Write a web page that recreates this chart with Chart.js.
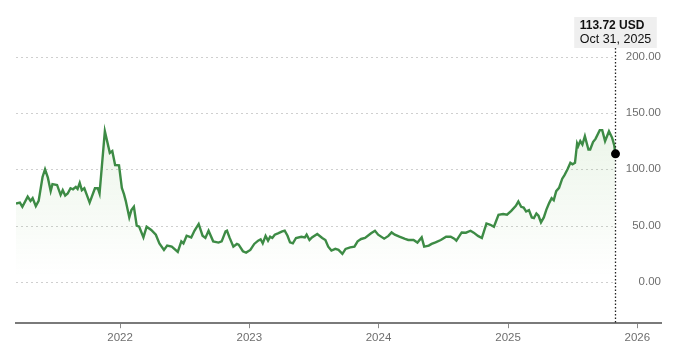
<!DOCTYPE html>
<html><head><meta charset="utf-8">
<script src="https://cdn.jsdelivr.net/npm/chart.js@4.4.1/dist/chart.umd.min.js"></script>
<style>html,body{margin:0;padding:0;background:#fff}#wrap{width:680px;height:353px;position:relative}</style>
</head><body><div id="wrap"><canvas id="c"></canvas></div>
<script>
const dates = [
'2021-03-13','2021-03-24','2021-03-31','2021-04-15','2021-04-23','2021-04-29','2021-05-08','2021-05-16','2021-05-27','2021-06-03',
'2021-06-11','2021-06-19','2021-06-24','2021-07-07','2021-07-17','2021-07-23','2021-07-30','2021-08-06','2021-08-14','2021-08-21',
'2021-08-29','2021-09-03','2021-09-09','2021-09-15','2021-09-22','2021-09-29','2021-10-07','2021-10-22','2021-10-30','2021-11-04',
'2021-11-19','2021-12-03','2021-12-10','2021-12-18','2021-12-29','2022-01-06','2022-01-12','2022-01-17','2022-01-27','2022-02-02',
'2022-02-09','2022-02-17','2022-02-24','2022-03-08','2022-03-17','2022-03-30','2022-04-12','2022-04-22','2022-05-05','2022-05-14',
'2022-05-27','2022-06-13','2022-06-23','2022-06-29','2022-07-08','2022-07-21','2022-07-30','2022-08-11','2022-08-22','2022-08-30',
'2022-09-08','2022-09-21','2022-10-06','2022-10-15','2022-10-26','2022-10-30','2022-11-06','2022-11-17','2022-11-27','2022-12-02',
'2022-12-14','2022-12-23','2023-01-04','2023-01-15','2023-01-26','2023-02-02','2023-02-08','2023-02-16','2023-02-23','2023-03-01',
'2023-03-07','2023-03-14','2023-03-23','2023-04-04','2023-04-11','2023-04-19','2023-04-26','2023-05-04','2023-05-13','2023-05-28',
'2023-06-07','2023-06-12','2023-06-20','2023-06-27','2023-07-12','2023-07-26','2023-08-04','2023-08-12','2023-08-21','2023-09-01',
'2023-09-10','2023-09-21','2023-09-30','2023-10-13','2023-10-25','2023-11-03','2023-11-13','2023-11-24','2023-12-11','2023-12-22',
'2023-12-31','2024-01-17','2024-01-29','2024-02-07','2024-02-16','2024-02-29','2024-03-16','2024-03-25','2024-04-09','2024-04-20',
'2024-05-02','2024-05-09','2024-05-22','2024-05-30','2024-06-10','2024-06-25','2024-07-10','2024-07-23','2024-08-02','2024-08-08',
'2024-08-23','2024-09-04','2024-09-17','2024-09-26','2024-10-08','2024-10-19','2024-11-01','2024-11-12','2024-11-22','2024-12-05',
'2024-12-18','2024-12-29','2025-01-10','2025-01-23','2025-01-30','2025-02-07','2025-02-14','2025-02-21','2025-03-01','2025-03-09',
'2025-03-15','2025-03-22','2025-03-28','2025-04-04','2025-04-12','2025-04-19','2025-04-27','2025-05-04','2025-05-10','2025-05-17',
'2025-05-25','2025-06-03','2025-06-09','2025-06-18','2025-06-26','2025-07-02','2025-07-09','2025-07-15','2025-07-18','2025-07-24',
'2025-07-30','2025-08-06','2025-08-16','2025-08-21','2025-08-29','2025-09-05','2025-09-17','2025-09-24','2025-10-02','2025-10-13',
'2025-10-22','2025-10-28','2025-10-31'
];
const prices = [
69.6,70.5,66.7,75.8,72.0,74.4,67.3,72.0,93.2,100.0,
92.6,80.8,86.8,86.1,77.3,81.5,76.7,78.5,83.2,82.3,
84.4,82.6,87.9,81.5,83.2,77.3,70.5,83.2,83.2,78.5,
133.8,114.6,116.2,103.8,103.5,83.5,77.9,72.0,57.3,63.8,
66.7,50.0,49.1,39.6,49.1,46.2,42.0,34.3,28.5,32.3,
31.4,26.7,36.1,34.3,41.1,39.6,45.5,51.5,41.1,39.1,
45.5,36.1,35.0,36.1,44.9,45.5,39.6,31.4,33.8,33.2,
27.3,26.1,28.5,33.8,36.7,37.9,34.3,40.9,36.7,40.2,
39.1,42.0,43.2,44.9,45.5,41.1,35.2,34.3,39.1,40.2,
39.6,42.0,37.3,39.6,42.6,39.1,37.3,31.4,27.9,29.4,
28.5,25.0,29.4,30.8,31.4,36.1,38.2,39.1,43.2,45.5,
42.0,38.5,40.9,44.0,42.0,40.2,38.2,37.3,37.3,35.0,
39.6,31.4,32.3,33.8,35.2,37.3,40.2,40.2,38.5,36.7,
44.0,43.8,45.5,43.8,40.9,39.1,52.0,50.8,49.1,59.7,
60.3,59.7,63.2,67.6,71.4,66.7,66.1,62.6,63.8,57.3,
56.7,60.8,58.8,52.9,57.3,64.0,70.0,74.4,72.6,80.6,
83.5,91.7,94.7,100.0,105.8,104.4,105.8,122.9,120.6,125.0,
122.0,129.4,117.6,117.6,124.1,127.0,134.7,134.7,125.0,133.8,
127.9,121.2,113.72
];
const yTickValues = [0, 50, 100, 150, 200];
const xTickYears = [2022, 2023, 2024, 2025, 2026];
const xRangeStart = '2021-03-13';
const xRangeEnd = '2026-03-09';
const currency = 'USD';

const points = dates.map((d, i) => ({ x: Date.parse(d), y: prices[i] }));
const lastIdx = prices.length - 1;
const lastLabel1 = prices[lastIdx].toFixed(2) + ' ' + currency;
const lastLabel2 = new Date(Date.parse(dates[lastIdx])).toLocaleDateString('en-US', { month: 'short', day: 'numeric', year: 'numeric', timeZone: 'UTC' });

const FONT = "'Liberation Sans', Arial, sans-serif";

const overlay = {
  id: 'overlay',
  beforeDatasetsDraw(chart) {
    const { ctx, chartArea, scales } = chart;
    const xEnd = scales.x.getPixelForValue(points[lastIdx].x);
    ctx.save();
    ctx.strokeStyle = '#cfcfcf';
    ctx.lineWidth = 1;
    ctx.setLineDash([2, 3]);
    yTickValues.forEach(v => {
      const y = Math.round(scales.y.getPixelForValue(v)) + 0.5;
      ctx.beginPath();
      ctx.moveTo(chartArea.left, y);
      ctx.lineTo(xEnd - 2, y);
      ctx.stroke();
    });
    ctx.restore();
  },
  afterDatasetsDraw(chart) {
    const { ctx, chartArea, scales } = chart;
    const x = Math.round(scales.x.getPixelForValue(points[lastIdx].x)) + 0.5;
    ctx.save();
    ctx.font = 'bold 12px ' + FONT;
    const w1 = ctx.measureText(lastLabel1).width;
    ctx.font = '12.5px ' + FONT;
    const w2 = ctx.measureText(lastLabel2).width;
    const bw = Math.max(w1, w2) + 11;
    const bx = x - bw / 2;
    const by = 17, bh = 31;
    ctx.fillStyle = '#efefef';
    ctx.fillRect(bx, by, bw, bh);
    ctx.strokeStyle = '#222';
    ctx.lineWidth = 1.3;
    ctx.setLineDash([1.5, 2]);
    ctx.beginPath();
    ctx.moveTo(x, by + bh);
    ctx.lineTo(x, chartArea.bottom);
    ctx.stroke();
    ctx.setLineDash([]);
    ctx.fillStyle = '#111';
    ctx.textBaseline = 'middle';
    ctx.textAlign = 'left';
    ctx.font = 'bold 12px ' + FONT;
    ctx.fillText(lastLabel1, bx + 5.5, by + 8.5);
    ctx.font = '12.5px ' + FONT;
    ctx.fillText(lastLabel2, bx + 5.5, by + 23);
    const py = scales.y.getPixelForValue(prices[lastIdx]);
    ctx.beginPath();
    ctx.arc(x, py, 4.5, 0, Math.PI * 2);
    ctx.fillStyle = '#000';
    ctx.fill();
    ctx.restore();
  }
};

new Chart(document.getElementById('c'), {
  type: 'line',
  data: {
    datasets: [{
      data: points,
      borderColor: '#3d8b45',
      borderWidth: 2.4,
      pointRadius: 0,
      tension: 0,
      fill: 'origin',
      backgroundColor: (context) => {
        const { chart } = context;
        const { ctx, chartArea, scales } = chart;
        if (!chartArea) return 'rgba(80,160,70,0.08)';
        const g = ctx.createLinearGradient(0, chartArea.top + 80, 0, scales.y.getPixelForValue(5));
        g.addColorStop(0, 'rgba(90,170,70,0.13)');
        g.addColorStop(1, 'rgba(90,170,70,0)');
        return g;
      }
    }]
  },
  options: {
    responsive: true,
    maintainAspectRatio: false,
    animation: false,
    devicePixelRatio: 1,
    layout: { padding: { left: 16, right: 11, top: 34, bottom: 5 } },
    plugins: { legend: { display: false }, tooltip: { enabled: false } },
    events: [],
    scales: {
      x: {
        type: 'linear',
        min: Date.parse(xRangeStart),
        max: Date.parse(xRangeEnd),
        afterBuildTicks: (scale) => { scale.ticks = xTickYears.map(yr => ({ value: Date.UTC(yr, 0, 1) })); },
        ticks: {
          autoSkip: false,
          maxRotation: 0,
          padding: 3,
          color: '#6e6e6e',
          font: { family: FONT, size: 11.5 },
          callback: (v) => String(new Date(v).getUTCFullYear())
        },
        grid: { display: true, drawOnChartArea: false, drawTicks: true, tickLength: 5, tickColor: '#8a8a8a', tickWidth: 1 },
        border: { display: true, color: '#7a7a7a', width: 2 }
      },
      y: {
        position: 'right',
        min: -36.5,
        max: 220,
        afterBuildTicks: (scale) => { scale.ticks = yTickValues.map(v => ({ value: v })); },
        ticks: {
          mirror: true,
          padding: 0,
          color: '#6e6e6e',
          font: { family: FONT, size: 11.5 },
          callback: (v) => v.toFixed(2)
        },
        grid: { display: false },
        border: { display: false }
      }
    }
  },
  plugins: [overlay]
});
</script>
</body></html>
